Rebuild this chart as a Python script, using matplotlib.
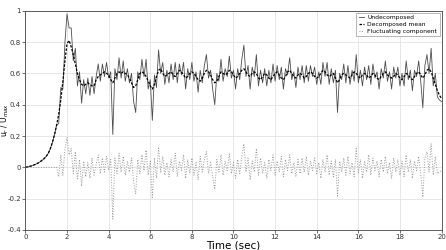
import numpy as np
import matplotlib
matplotlib.use("Agg")
import matplotlib.pyplot as plt

# time axis, 0.1 s step
time = np.round(np.arange(201) * 0.1, 1)

# decomposed mean
mean = [
    0.000, 0.003, 0.006, 0.010, 0.015, 0.020, 0.027, 0.035, 0.045, 0.056,
    0.070, 0.090, 0.120, 0.160, 0.210, 0.270, 0.340, 0.430, 0.550, 0.680,
    0.790, 0.810, 0.770, 0.720, 0.660, 0.600, 0.560, 0.530, 0.520, 0.530,
    0.540, 0.530, 0.520, 0.520, 0.560, 0.580, 0.590, 0.600, 0.610, 0.600,
    0.590, 0.560, 0.540, 0.570, 0.600, 0.610, 0.600, 0.610, 0.600, 0.590,
    0.570, 0.540, 0.510, 0.520, 0.560, 0.600, 0.610, 0.600, 0.580, 0.550,
    0.520, 0.500, 0.530, 0.580, 0.620, 0.630, 0.600, 0.580, 0.590, 0.600,
    0.610, 0.590, 0.580, 0.600, 0.620, 0.610, 0.590, 0.570, 0.580, 0.600,
    0.610, 0.600, 0.580, 0.560, 0.550, 0.570, 0.600, 0.620, 0.610, 0.590,
    0.560, 0.540, 0.550, 0.580, 0.610, 0.600, 0.590, 0.600, 0.620, 0.610,
    0.590, 0.570, 0.580, 0.600, 0.620, 0.630, 0.610, 0.590, 0.580, 0.600,
    0.610, 0.600, 0.570, 0.560, 0.580, 0.600, 0.590, 0.570, 0.560, 0.580,
    0.600, 0.610, 0.590, 0.570, 0.560, 0.580, 0.610, 0.620, 0.600, 0.580,
    0.570, 0.590, 0.600, 0.590, 0.570, 0.580, 0.600, 0.610, 0.600, 0.580,
    0.570, 0.580, 0.600, 0.620, 0.610, 0.590, 0.580, 0.590, 0.600, 0.570,
    0.540, 0.560, 0.590, 0.600, 0.590, 0.580, 0.570, 0.590, 0.610, 0.600,
    0.580, 0.570, 0.590, 0.600, 0.590, 0.570, 0.580, 0.600, 0.590, 0.570,
    0.560, 0.580, 0.600, 0.610, 0.590, 0.580, 0.570, 0.580, 0.600, 0.590,
    0.570, 0.560, 0.580, 0.600, 0.590, 0.570, 0.560, 0.580, 0.600, 0.610,
    0.590, 0.570, 0.590, 0.620, 0.630, 0.610, 0.570, 0.530, 0.490, 0.460,
    0.440,
]

# fluctuating component
fluct = [
    0.00, 0.00, 0.00, 0.00, 0.00, 0.00, 0.00, 0.00, 0.00, 0.00,
    0.00, 0.00, 0.00, 0.00, 0.00, 0.00, -0.06, 0.08, -0.05, 0.12,
    0.19, 0.08, 0.12, -0.04, 0.10, -0.08, 0.05, -0.12, 0.04, -0.06,
    0.03, -0.07, 0.06, -0.05, 0.02, 0.08, -0.04, 0.06, -0.03, 0.07,
    -0.02, 0.05, -0.33, 0.06, -0.04, 0.09, -0.03, 0.07, -0.05, 0.04,
    -0.03, 0.06, -0.09, -0.17, 0.05, -0.04, 0.08, -0.02, 0.11, -0.05,
    0.04, -0.20, 0.06, -0.07, 0.13, -0.03, 0.07, -0.05, 0.03, -0.06,
    0.05, -0.03, 0.09, -0.06, 0.04, -0.02, 0.08, -0.07, 0.05, -0.04,
    0.06, -0.05, 0.03, -0.08, 0.07, -0.03, 0.05, 0.10, -0.04, 0.03,
    -0.06, -0.14, 0.05, -0.03, 0.08, -0.05, 0.04, -0.02, 0.09, -0.04,
    0.03, -0.07, 0.05, -0.04, 0.07, 0.15, -0.03, 0.06, -0.08, 0.04,
    -0.03, 0.12, -0.05, 0.06, -0.04, 0.03, -0.07, 0.05, -0.02, 0.08,
    -0.05, 0.04, -0.03, 0.07, -0.06, 0.05, -0.02, 0.08, -0.04, 0.03,
    -0.06, 0.05, -0.04, 0.06, -0.03, 0.07, -0.05, 0.04, -0.02, 0.06,
    -0.04, 0.03, -0.07, 0.05, -0.03, 0.08, -0.05, 0.04, -0.06, 0.05,
    -0.19, 0.04, -0.03, 0.06, -0.05, 0.07, -0.04, 0.03, -0.06, 0.12,
    -0.04, 0.05, -0.07, 0.04, -0.03, 0.08, -0.05, 0.06, -0.02, 0.04,
    -0.06, 0.05, -0.03, 0.07, -0.04, 0.03, -0.07, 0.06, -0.03, 0.05,
    -0.05, 0.04, -0.06, 0.08, -0.03, 0.05, -0.07, 0.04, -0.02, 0.07,
    -0.04, -0.19, 0.06, 0.10, -0.03, 0.15, -0.05, 0.07, -0.04, -0.03,
    -0.02,
]

mean = np.array(mean)
fluct = np.array(fluct)
raw = mean + fluct

fig = plt.figure(figsize=(4.46, 2.5), dpi=100)
ax = fig.add_axes([0.057, 0.08, 0.933, 0.877])

ax.plot(time, raw, color="#4d4d4d", lw=0.6, label="Undecomposed")
ax.plot(time, mean, "k--", lw=0.9, dashes=(2, 1.2), label="Decomposed mean")
ax.plot(time, fluct, color="#999999", ls=":", lw=0.7, label="Fluctuating component")

ax.set_xlim(0, 20)
ax.set_ylim(-0.4, 1)
ax.set_xticks(np.arange(0, 21, 2))
ax.set_yticks([-0.4, -0.2, 0, 0.2, 0.4, 0.6, 0.8, 1])
ax.set_yticklabels(["-0.4", "-0.2", "0", "0.2", "0.4", "0.6", "0.8", "1"])
ax.grid(True, color="#e3e3e3", lw=0.6)
ax.tick_params(labelsize=5, length=2, width=0.5, colors="#333333", pad=1.2)
for s in ax.spines.values():
    s.set_color("#444444")
    s.set_linewidth(0.6)

ax.set_xlabel("Time (sec)", fontsize=7.5, labelpad=0)
ax.set_ylabel("u$_r$ / U$_{max}$", fontsize=5.5)
ax.yaxis.set_label_coords(-0.034, 0.5)

leg = ax.legend(loc="upper right", fontsize=4.3, handlelength=1.0,
                fancybox=False, framealpha=1, borderpad=0.4,
                labelspacing=0.3, handletextpad=0.5, borderaxespad=0.3)
leg.get_frame().set_edgecolor("#999999")
leg.get_frame().set_linewidth(0.5)

fig.savefig("out.png", dpi=100)
